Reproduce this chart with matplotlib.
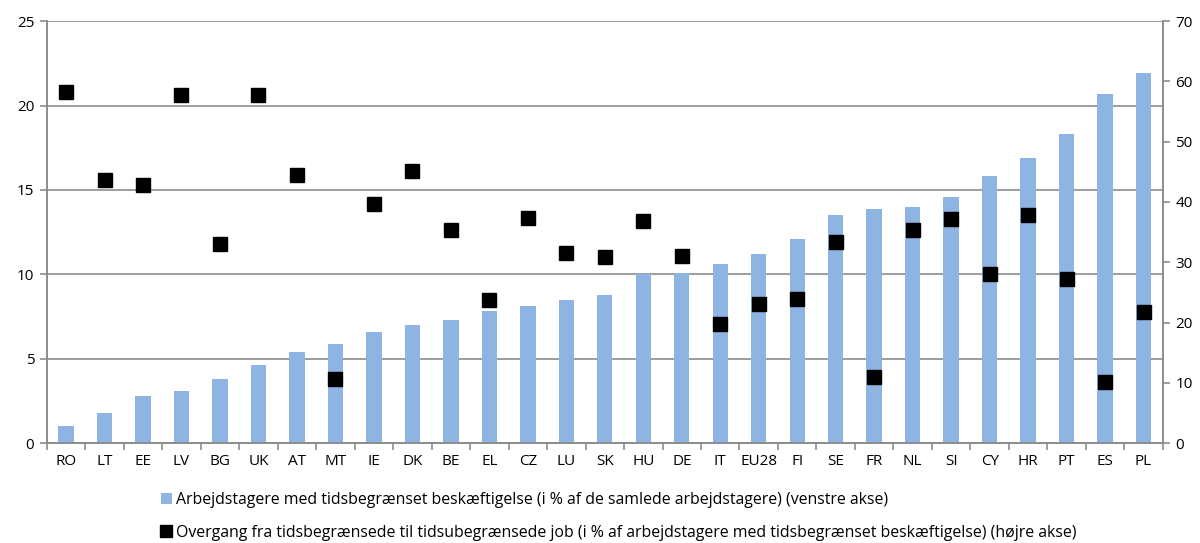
import numpy as np
import matplotlib.pyplot as plt
from matplotlib.lines import Line2D
from matplotlib.patches import Patch

# Countries, sorted by share of temporary employees
countries = ['RO', 'LT', 'EE', 'LV', 'BG', 'UK', 'AT', 'MT', 'IE', 'DK', 'BE', 'EL',
             'CZ', 'LU', 'SK', 'HU', 'DE', 'IT', 'EU28', 'FI', 'SE', 'FR', 'NL', 'SI',
             'CY', 'HR', 'PT', 'ES', 'PL']

# Temporary employees, % of all employees (left axis)
temp_share = [1.0, 1.8, 2.8, 3.1, 3.8, 4.6, 5.4, 5.9, 6.6, 7.0, 7.3, 7.8,
              8.1, 8.5, 8.8, 10.0, 10.1, 10.6, 11.2, 12.1, 13.5, 13.9, 14.0, 14.6,
              15.8, 16.9, 18.3, 20.7, 21.9]

# Transition from temporary to permanent jobs, % (right axis)
transition = [58.3, 43.6, 42.8, 57.7, 33.1, 57.8, 44.4, 10.7, 39.7, 45.2, 35.3, 23.8,
              37.4, 31.6, 30.8, 36.9, 31.1, 19.7, 23.0, 23.9, 33.4, 11.0, 35.4, 37.1,
              28.0, 37.9, 27.3, 10.2, 21.8]

bar_label = 'Arbejdstagere med tidsbegrænset beskæftigelse (i % af de samlede arbejdstagere) (venstre akse)'
dot_label = 'Overgang fra tidsbegrænsede til tidsubegrænsede job (i % af arbejdstagere med tidsbegrænset beskæftigelse) (højre akse)'

plt.rcParams['font.family'] = ['Open Sans', 'DejaVu Sans']
grey = '#8c8c8c'
blue = '#8eb4e3'

fig = plt.figure(figsize=(12, 5.43), dpi=100)
ax = fig.add_axes([0.039, 0.184, 0.930, 0.777])
ax2 = ax.twinx()

x = np.arange(len(countries))
ax.bar(x, temp_share, width=0.4, color=blue, zorder=2)
ax2.plot(x, transition, 's', color='black', markersize=9.5, zorder=3)

ax.set_xlim(-0.5, len(countries) - 0.5)
ax.set_ylim(0, 25)
ax.set_yticks(np.arange(0, 26, 5))
ax2.set_ylim(0, 70)
ax2.set_yticks(np.arange(0, 71, 10))

ax.yaxis.grid(True, color=grey, linewidth=1.2, zorder=0)
ax.set_axisbelow(True)

ax.set_xticks(x)
ax.set_xticklabels(countries)
ax.set_xticks(np.arange(-0.5, len(countries)), minor=True)
ax.tick_params(axis='x', which='major', length=0, pad=8, labelsize=11)
ax.tick_params(axis='x', which='minor', length=5, color=grey, width=1.2)
ax.tick_params(axis='y', length=5, color=grey, width=1.2, labelsize=11, pad=4)
ax2.tick_params(axis='y', length=5, color=grey, width=1.2, labelsize=11, pad=4)

for a in (ax, ax2):
    a.spines['top'].set_visible(False)
    for s in ('left', 'right', 'bottom'):
        a.spines[s].set_color(grey)
        a.spines[s].set_linewidth(1.2)

handles = [Patch(facecolor=blue, edgecolor='none'),
           Line2D([], [], marker='s', color='black', linestyle='none', markersize=9)]
fig.legend(handles, [bar_label, dot_label], loc='lower left',
           bbox_to_anchor=(0.122, -0.022), frameon=False, fontsize=11.4,
           handlelength=0.7, handleheight=0.7, handletextpad=0.3,
           labelspacing=1.05)

fig.savefig('out.png', dpi=100)
